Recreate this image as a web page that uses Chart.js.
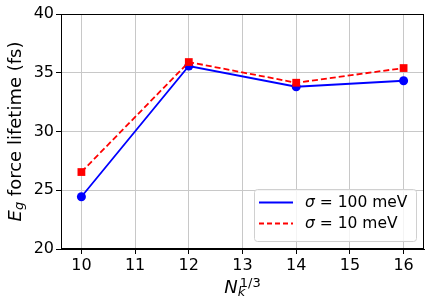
<!DOCTYPE html>
<html lang="en">
  <head>
    <meta charset="UTF-8" />
    <title>Eg force lifetime</title>
    <style>
      html, body { margin: 0; padding: 0; background: #fff; }
      #wrap { width: 436px; height: 306px; position: relative; }
    </style>
  </head>
  <body>
    <div id="wrap"><canvas id="chart" width="436" height="306"></canvas></div>

    <script src="https://cdn.jsdelivr.net/npm/chart.js"></script>
    <script>
      // data
      const nk = [10, 12, 14, 16];
      const sigma100 = [24.45, 35.57, 33.81, 34.32];
      const sigma10 = [26.55, 35.91, 34.15, 35.4];
      const xTicks = [10, 11, 12, 13, 14, 15, 16];
      const yTicks = [20, 25, 30, 35, 40];
      const legendLabels = ['100 meV', '10 meV'];

      const FONT = '"DejaVu Sans", sans-serif';

      function pts(ys) {
        return nk.map((x, i) => ({ x, y: ys[i] }));
      }

      // frame, axis titles and legend drawn in matplotlib style
      const extras = {
        id: 'extras',
        afterDraw(chart) {
          const { ctx, chartArea: a } = chart;
          ctx.save();
          ctx.strokeStyle = '#000';
          ctx.lineWidth = 1;
          ctx.strokeRect(a.left + 0.5, a.top + 0.5, a.right - a.left - 1, a.bottom - a.top - 1);

          // y title: E_g force lifetime (fs)
          ctx.save();
          ctx.translate(16, (a.top + a.bottom) / 2);
          ctx.rotate(-Math.PI / 2);
          ctx.fillStyle = '#000';
          ctx.textBaseline = 'middle';
          const big = 18, small = 13;
          ctx.font = `oblique ${big}px ${FONT}`;
          const wE = ctx.measureText('E').width;
          ctx.font = `oblique ${small}px ${FONT}`;
          const wg = ctx.measureText('g').width;
          ctx.font = `${big}px ${FONT}`;
          const rest = ' force lifetime (fs)';
          const wr = ctx.measureText(rest).width;
          let x = -(wE + wg + wr) / 2;
          ctx.textAlign = 'left';
          ctx.font = `oblique ${big}px ${FONT}`;
          ctx.fillText('E', x, 0);
          x += wE;
          ctx.font = `oblique ${small}px ${FONT}`;
          ctx.fillText('g', x, 4);
          x += wg;
          ctx.font = `${big}px ${FONT}`;
          ctx.fillText(rest, x, 0);
          ctx.restore();

          // x title: N_k^{1/3}
          ctx.fillStyle = '#000';
          ctx.textBaseline = 'alphabetic';
          ctx.textAlign = 'left';
          ctx.font = `oblique ${big}px ${FONT}`;
          const wN = ctx.measureText('N').width;
          ctx.font = `${small}px ${FONT}`;
          const wf = ctx.measureText('1/3').width;
          let bx = (a.left + a.right) / 2 - (wN + wf + 2) / 2;
          const by = 293;
          ctx.font = `oblique ${big}px ${FONT}`;
          ctx.fillText('N', bx, by);
          ctx.font = `oblique ${small}px ${FONT}`;
          ctx.fillText('k', bx + wN, by + 3);
          ctx.font = `${small}px ${FONT}`;
          ctx.fillText('1/3', bx + wN + 2, by - 6);

          // legend box in lower right
          const lx = 254, ly = 189, lw = 162, lh = 52;
          ctx.beginPath();
          ctx.roundRect(lx + 0.5, ly + 0.5, lw, lh, 3);
          ctx.fillStyle = 'rgba(255,255,255,0.8)';
          ctx.fill();
          ctx.strokeStyle = '#d0d0d0';
          ctx.lineWidth = 1;
          ctx.stroke();

          const rows = [
            { y: 202.5, color: 'blue', dash: [] },
            { y: 223.5, color: 'red', dash: [5, 3] },
          ];
          rows.forEach((r, i) => {
            ctx.beginPath();
            ctx.strokeStyle = r.color;
            ctx.lineWidth = 1.8;
            ctx.setLineDash(r.dash);
            ctx.moveTo(259, r.y);
            ctx.lineTo(293, r.y);
            ctx.stroke();
            ctx.setLineDash([]);
            ctx.fillStyle = '#000';
            ctx.textBaseline = 'middle';
            ctx.font = `oblique 15.5px ${FONT}`;
            ctx.fillText('σ', 305, r.y);
            const ws = ctx.measureText('σ').width;
            ctx.font = `15.5px ${FONT}`;
            const eq = ' = ';
            ctx.fillText(eq, 305 + ws, r.y);
            const we = ctx.measureText(eq).width;
            ctx.fillText(legendLabels[i], 305 + ws + we, r.y);
          });
          ctx.restore();
        },
      };

      new Chart(document.getElementById('chart'), {
        type: 'line',
        data: {
          datasets: [
            {
              label: 'σ = 100 meV',
              data: pts(sigma100),
              borderColor: 'blue',
              backgroundColor: 'blue',
              borderWidth: 1.8,
              pointStyle: 'circle',
              pointRadius: 4.5,
              pointBorderWidth: 0,
              tension: 0,
              order: 1,
            },
            {
              label: 'σ = 10 meV',
              data: pts(sigma10),
              borderColor: 'red',
              backgroundColor: 'red',
              borderWidth: 1.8,
              borderDash: [6, 3],
              pointStyle: 'rect',
              pointRadius: 5.5,
              pointBorderWidth: 0,
              tension: 0,
              order: 0,
            },
          ],
        },
        options: {
          responsive: false,
          animation: false,
          devicePixelRatio: 1,
          layout: { padding: { left: 0, top: 14, right: 12, bottom: 0 } },
          plugins: { legend: { display: false }, tooltip: { enabled: false } },
          scales: {
            x: {
              type: 'linear',
              min: 9.62,
              max: 16.38,
              afterFit: (s) => { s.height = 57; },
              afterBuildTicks: (s) => { s.ticks = xTicks.map((v) => ({ value: v })); },
              grid: { color: '#c8c8c8', lineWidth: 1, tickColor: '#000', tickLength: 5 },
              border: { color: '#000', width: 1 },
              ticks: { color: '#000', font: { family: FONT, size: 16 }, padding: 2, maxRotation: 0 },
            },
            y: {
              min: 20,
              max: 40,
              afterFit: (s) => { s.width = 61; },
              afterBuildTicks: (s) => { s.ticks = yTicks.map((v) => ({ value: v })); },
              grid: { color: '#c8c8c8', lineWidth: 1, tickColor: '#000', tickLength: 5 },
              border: { color: '#000', width: 1 },
              ticks: { color: '#000', font: { family: FONT, size: 16 }, padding: 2 },
            },
          },
        },
        plugins: [extras],
      });
    </script>
  </body>
</html>
